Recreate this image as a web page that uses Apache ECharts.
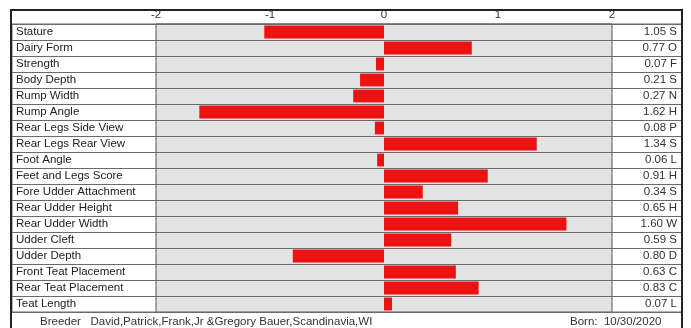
<!DOCTYPE html>
<html>
<head>
<meta charset="utf-8">
<script src="https://cdn.jsdelivr.net/npm/echarts@6/dist/echarts.min.js"></script>
<style>
html,body{margin:0;padding:0;background:#fff;}
#chart{width:691px;height:328px;}
</style>
</head>
<body>
<div id="chart"></div>
<script>
var categories = ['Stature','Dairy Form','Strength','Body Depth','Rump Width','Rump Angle','Rear Legs Side View','Rear Legs Rear View','Foot Angle','Feet and Legs Score','Fore Udder Attachment','Rear Udder Height','Rear Udder Width','Udder Cleft','Udder Depth','Front Teat Placement','Rear Teat Placement','Teat Length'];
var values = [-1.05, 0.77, -0.07, -0.21, -0.27, -1.62, -0.08, 1.34, -0.06, 0.91, 0.34, 0.65, 1.60, 0.59, -0.80, 0.63, 0.83, 0.07];
var valueLabels = ['1.05 S','0.77 O','0.07 F','0.21 S','0.27 N','1.62 H','0.08 P','1.34 S','0.06 L','0.91 H','0.34 S','0.65 H','1.60 W','0.59 S','0.80 D','0.63 C','0.83 C','0.07 L'];
var breederText = 'Breeder   David,Patrick,Frank,Jr &Gregory Bauer,Scandinavia,WI';
var bornText = 'Born:  10/30/2020';

var FONT = 'Liberation Sans, Arial, sans-serif';
var FS = 11.5;
var chart = echarts.init(document.getElementById('chart'), null, {renderer:'canvas'});
chart.setOption({
  animation:false,
  backgroundColor:'#fff',
  textStyle:{fontFamily:FONT},
  title:[
    {text:breederText, left:35, top:311, textStyle:{fontSize:FS, fontWeight:'normal', color:'#333', fontFamily:FONT}},
    {text:bornText, left:565, top:311, textStyle:{fontSize:FS, fontWeight:'normal', color:'#333', fontFamily:FONT}}
  ],
  graphic:[
    {type:'rect', z:100, silent:true, shape:{x:11, y:10, width:671, height:360}, style:{fill:'none', stroke:'#222', lineWidth:2}}
  ],
  grid:[
    {left:12, right:9, top:24, bottom:16, show:true, backgroundColor:'transparent', borderColor:'#666', borderWidth:1},
    {left:156, right:79, top:24, bottom:16, show:true, backgroundColor:'#e3e3e3', borderColor:'#555', borderWidth:1}
  ],
  xAxis:[
    {gridIndex:0, type:'value', min:0, max:1, show:false},
    {gridIndex:1, type:'value', position:'top', min:-2, max:2, interval:1,
     axisLine:{show:false}, axisTick:{show:false}, splitLine:{show:false},
     axisLabel:{margin:3, fontSize:FS, color:'#333', fontFamily:FONT}}
  ],
  yAxis:[
    {gridIndex:0, type:'category', data:categories, inverse:true,
     axisLine:{show:false}, axisTick:{show:false}, axisLabel:{show:false},
     splitLine:{show:true, lineStyle:{color:'#6a6a6a', width:1.2}}},
    {gridIndex:1, type:'category', data:categories, inverse:true,
     axisLine:{show:false}, axisTick:{show:false}, splitLine:{show:false},
     axisLabel:{align:'left', margin:140, fontSize:FS, color:'#222', fontFamily:FONT}},
    {gridIndex:1, type:'category', data:valueLabels, inverse:true, position:'right',
     axisLine:{show:false}, axisTick:{show:false}, splitLine:{show:false},
     axisLabel:{align:'right', margin:65, fontSize:FS, color:'#333', fontFamily:FONT}}
  ],
  series:[
    {type:'bar', xAxisIndex:1, yAxisIndex:1, data:values, barCategoryGap:'20%',
     itemStyle:{color:'#ee1111'}, z:5}
  ]
});
</script>
</body>
</html>
